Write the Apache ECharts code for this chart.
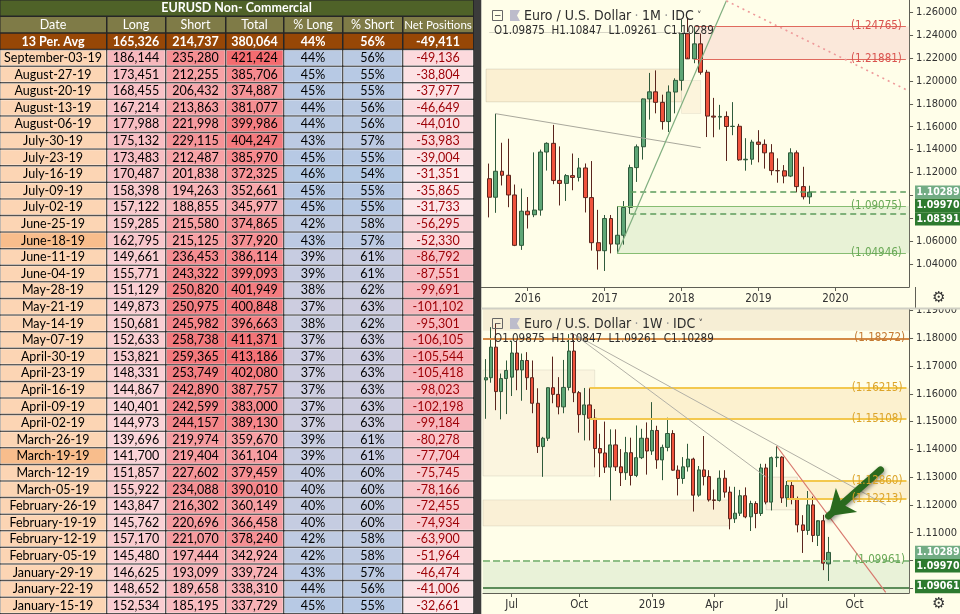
<!DOCTYPE html>
<html>
<head>
<meta charset="utf-8">
<script src="https://cdn.jsdelivr.net/npm/echarts@6/dist/echarts.min.js"></script>
<style>
html,body{margin:0;padding:0;background:#262626;}
#chart{width:960px;height:614px;}
</style>
</head>
<body>
<div id="chart"></div>
<script>
// ===================== TABLE DATA =====================
const tableTitle = 'EURUSD Non- Commercial';
const tableHeaders = ['Date', 'Long', 'Short', 'Total', '% Long', '% Short', 'Net Positions'];
const avgLabel = '13 Per. Avg';
const avgLong = 165326, avgShort = 214737, avgTotal = 380064, avgPctLong = 44, avgPctShort = 56, avgNet = -49411;
const dates = ['September-03-19','August-27-19','August-20-19','August-13-19','August-06-19','July-30-19','July-23-19','July-16-19','July-09-19','July-02-19','June-25-19','June-18-19','June-11-19','June-04-19','May-28-19','May-21-19','May-14-19','May-07-19','April-30-19','April-23-19','April-16-19','April-09-19','April-02-19','March-26-19','March-19-19','March-12-19','March-05-19','February-26-19','February-19-19','February-12-19','February-05-19','January-29-19','January-22-19','January-15-19'];
const longs = [186144,173451,168455,167214,177988,175132,173483,170487,158398,157122,159285,162795,149661,155771,151129,149873,150681,152633,153821,148331,144867,140401,144973,139696,141700,151857,155922,143847,145762,157170,145480,146625,148652,152534];
const shorts = [235280,212255,206432,213863,221998,229115,212487,201838,194263,188855,215580,215125,236453,243322,250820,250975,245982,258738,259365,253749,242890,242599,244157,219974,219404,227602,234088,216302,220696,221070,197444,193099,189658,185195];
const totals = [421424,385706,374887,381077,399986,404247,385970,372325,352661,345977,374865,377920,386114,399093,401949,400848,396663,411371,413186,402080,387757,383000,389130,359670,361104,379459,390010,360149,366458,378240,342924,339724,338310,337729];
const pctLong = [44,45,45,44,44,43,45,46,45,45,42,43,39,39,38,37,38,37,37,37,37,37,37,39,39,40,40,40,40,42,42,43,44,45];
const pctShort = [56,55,55,56,56,57,55,54,55,55,58,57,61,61,62,63,62,63,63,63,63,63,63,61,61,60,60,60,60,58,58,57,56,55];
const netPos = [-49136,-38804,-37977,-46649,-44010,-53983,-39004,-31351,-35865,-31733,-56295,-52330,-86792,-87551,-99691,-101102,-95301,-106105,-105544,-105418,-98023,-102198,-99184,-80278,-77704,-75745,-78166,-72455,-74934,-63900,-51964,-46474,-41006,-32661];
const highlightedDates = ['June-18-19', 'March-19-19'];

// ===================== MONTHLY EUR/USD (Jul 2015 .. Sep 2019) [open, high, low, close] =====================
const monthlyOHLC = [
[1.1146,1.1278,1.0808,1.0984],[1.0984,1.1714,1.0848,1.1211],[1.1211,1.1460,1.1087,1.1176],[1.1176,1.1495,1.0897,1.1004],[1.1004,1.1095,1.0557,1.0564],[1.0564,1.1060,1.0524,1.0862],
[1.0862,1.0986,1.0711,1.0831],[1.0831,1.1376,1.0810,1.0872],[1.0872,1.1400,1.0823,1.1379],[1.1379,1.1464,1.1217,1.1455],[1.1455,1.1616,1.1098,1.1131],[1.1131,1.1428,1.0912,1.1105],
[1.1105,1.1186,1.0952,1.1173],[1.1173,1.1366,1.1045,1.1157],[1.1157,1.1327,1.1122,1.1240],[1.1240,1.1279,1.0851,1.0981],[1.0981,1.1300,1.0518,1.0587],[1.0587,1.0874,1.0352,1.0517],
[1.0517,1.0829,1.0340,1.0798],[1.0798,1.0829,1.0494,1.0575],[1.0575,1.0906,1.0493,1.0652],[1.0652,1.0951,1.0570,1.0895],[1.0895,1.1268,1.0839,1.1243],[1.1243,1.1445,1.1118,1.1425],
[1.1425,1.1847,1.1313,1.1843],[1.1843,1.2070,1.1662,1.1905],[1.1905,1.2092,1.1717,1.1813],[1.1813,1.1880,1.1575,1.1645],[1.1645,1.1961,1.1554,1.1903],[1.1903,1.2023,1.1717,1.2005],
[1.2005,1.2537,1.1916,1.2413],[1.2413,1.2556,1.2206,1.2193],[1.2193,1.2476,1.2155,1.2324],[1.2324,1.2414,1.2055,1.2076],[1.2076,1.2097,1.1510,1.1693],[1.1693,1.1852,1.1508,1.1684],
[1.1684,1.1791,1.1575,1.1690],[1.1690,1.1734,1.1301,1.1602],[1.1602,1.1815,1.1526,1.1604],[1.1604,1.1625,1.1302,1.1311],[1.1311,1.1500,1.1216,1.1316],[1.1316,1.1486,1.1268,1.1466],
[1.1466,1.1570,1.1289,1.1446],[1.1446,1.1489,1.1234,1.1372],[1.1372,1.1448,1.1176,1.1217],[1.1217,1.1324,1.1111,1.1215],[1.1215,1.1265,1.1106,1.1169],[1.1169,1.1412,1.1160,1.1372],
[1.1372,1.1393,1.1027,1.1077],[1.1077,1.1250,1.0965,1.0988],[1.09875,1.10847,1.09261,1.10289]
];
const monthlyTickCats = ['2016-01','2017-01','2018-01','2019-01','2020-01'];
const monthlyTickLabels = ['2016','2017','2018','2019','2020'];

// ===================== WEEKLY EUR/USD (from week of 2018-05-28) [open, high, low, close] =====================
const weeklyOHLC = [
[1.1650,1.1725,1.1510,1.1658],[1.1658,1.1840,1.1640,1.1768],[1.1768,1.1852,1.1541,1.1608],[1.1608,1.1673,1.1508,1.1655],[1.1655,1.1720,1.1527,1.1684],
[1.1660,1.1791,1.1592,1.1747],[1.1747,1.1791,1.1613,1.1686],[1.1686,1.1745,1.1575,1.1720],[1.1720,1.1750,1.1614,1.1658],[1.1658,1.1720,1.1530,1.1566],
[1.1566,1.1620,1.1387,1.1410],[1.1410,1.1445,1.1301,1.1440],[1.1440,1.1623,1.1430,1.1622],[1.1622,1.1734,1.1566,1.1598],[1.1598,1.1660,1.1526,1.1553],
[1.1553,1.1722,1.1530,1.1623],[1.1623,1.1815,1.1612,1.1754],[1.1754,1.1815,1.1570,1.1604],[1.1604,1.1610,1.1460,1.1525],[1.1525,1.1621,1.1432,1.1560],
[1.1560,1.1621,1.1432,1.1512],[1.1512,1.1545,1.1335,1.1403],[1.1403,1.1456,1.1300,1.1387],[1.1387,1.1500,1.1315,1.1336],[1.1336,1.1472,1.1216,1.1416],
[1.1416,1.1472,1.1322,1.1337],[1.1337,1.1401,1.1268,1.1316],[1.1316,1.1445,1.1290,1.1388],[1.1388,1.1442,1.1270,1.1306],[1.1306,1.1486,1.1300,1.1370],
[1.1370,1.1474,1.1365,1.1440],[1.1440,1.1497,1.1309,1.1394],[1.1394,1.1570,1.1380,1.1468],[1.1468,1.1485,1.1330,1.1362],[1.1362,1.1417,1.1289,1.1407],
[1.1407,1.1514,1.1393,1.1457],[1.1457,1.1469,1.1323,1.1325],[1.1325,1.1342,1.1234,1.1295],[1.1295,1.1372,1.1276,1.1337],[1.1337,1.1420,1.1320,1.1365],
[1.1365,1.1370,1.1176,1.1235],[1.1235,1.1340,1.1229,1.1326],[1.1326,1.1448,1.1270,1.1302],[1.1302,1.1325,1.1212,1.1218],[1.1218,1.1255,1.1183,1.1216],
[1.1216,1.1324,1.1212,1.1296],[1.1296,1.1325,1.1226,1.1246],[1.1246,1.1266,1.1112,1.1150],[1.1150,1.1265,1.1135,1.1170],[1.1170,1.1254,1.1160,1.1233],
[1.1233,1.1263,1.1152,1.1157],[1.1157,1.1215,1.1106,1.1205],[1.1205,1.1213,1.1116,1.1169],[1.1169,1.1348,1.1160,1.1333],[1.1333,1.1348,1.1202,1.1210],
[1.1210,1.1374,1.1180,1.1370],[1.1370,1.1412,1.1336,1.1372],[1.1372,1.1375,1.1207,1.1225],[1.1225,1.1286,1.1193,1.1270],[1.1270,1.1286,1.1202,1.1220],
[1.1220,1.1230,1.1101,1.1128],[1.1128,1.1163,1.1027,1.1108],[1.1108,1.1250,1.1092,1.1200],[1.1200,1.1230,1.1066,1.1090],[1.1090,1.1140,1.1052,1.1143],
[1.1143,1.1164,1.0965,1.0990],[1.09875,1.10847,1.09261,1.10289]
];
const weeklyTickCats = ['2018-07-02','2018-10-01','2019-01-07','2019-04-01','2019-07-01','2019-10-07'];
const weeklyTickLabels = ['Jul','Oct','2019','Apr','Jul','Oct'];

// ===================== CHART ANNOTATION LEVELS =====================
const lastOHLC = [1.09875, 1.10847, 1.09261, 1.10289];
const topSupplyZone = [1.24765, 1.21881];
const topDemandZone = [1.09075, 1.04946];
const topDashedLevels = [1.10289, 1.08391];
const topOldZoneA = [1.2104, 1.1817];
const topOldZoneB = [1.2004, 1.1716];
const topGrayLevel = 1.2425;
const topTrendGray = [[1, 1.1714], [33, 1.1417]];
const topTrendGreen = [[20, 1.0494], [37, 1.2700]];
const topTrendRed = [[37, 1.2700], [65, 1.1925]];
const topTagValues = [1.10289, 1.09970, 1.08391];

const botOrangeLevel = 1.18272;
const botZone1 = [1.16215, 1.15108];
const botZone2 = [1.12860, 1.12213];
const botSupport = 1.09961;
const botFloor = 1.09061;
const botOldZone1 = [1.1686, 1.1304];
const botOldZone2 = [1.1218, 1.1124];
const botOldZone3 = [1.1300, 1.1182];
const botTrendGrayA = [[17, 1.1815], [77, 1.1200]];
const botTrendGrayB = [[17, 1.1815], [54, 1.1300]];
const botTrendRed = [[56, 1.1412], [77, 1.0885]];
const botArrow = [[76, 1.1326], [66, 1.1160]];
const botTagValues = [1.10289, 1.09970, 1.09061];

// ===================== BUILD =====================
const monthlyCats = [];
for (let i = 0; i < 66; i++) {
  const y = 2015 + Math.floor((6 + i) / 12), m = (6 + i) % 12 + 1;
  monthlyCats.push(y + '-' + String(m).padStart(2, '0'));
}
const weeklyCats = [];
const wStart = Date.UTC(2018, 4, 28);
for (let i = 0; i < 82; i++) weeklyCats.push(new Date(wStart + i * 7 * 86400000).toISOString().slice(0, 10));
const lastM = monthlyCats.length - 1, lastW = weeklyCats.length - 1;

const CH_FONT = "'Liberation Sans Narrow','DejaVu Sans Condensed',Roboto,sans-serif";
const TBL_FONT = "Lato,'Open Sans',sans-serif";
const fmt = v => v.toLocaleString('en-US');
function lerpColor(a, b, t) {
  t = Math.max(0, Math.min(1, t));
  return 'rgb(' + [0, 1, 2].map(k => Math.round(a[k] + (b[k] - a[k]) * t)).join(',') + ')';
}
function scaleColor(arr, v, lo, hi) {
  const mn = Math.min(...arr), mx = Math.max(...arr);
  return lerpColor(lo, hi, (v - mn) / (mx - mn));
}

const tableCells = [];
tableCells.push({row: 0, col: 0, span: true, text: tableTitle, bg: '#4f6228', color: '#fff', bold: true});
tableHeaders.forEach((h, c) => tableCells.push({row: 1, col: c, text: h, bg: '#7f7b47', color: '#fff'}));
[avgLabel, fmt(avgLong), fmt(avgShort), fmt(avgTotal), avgPctLong + '%', avgPctShort + '%', fmt(avgNet)]
  .forEach((t, c) => tableCells.push({row: 2, col: c, text: t, bg: '#974706', color: '#fff', bold: true}));
const absNet = netPos.map(Math.abs);
dates.forEach((d, i) => {
  const r = i + 3;
  const pctBg = scaleColor(pctLong, pctLong[i], [205, 205, 224], [180, 201, 228]);
  tableCells.push({row: r, col: 0, text: d, bg: highlightedDates.includes(d) ? '#f8bd8c' : '#fcd5b4', color: '#000'});
  tableCells.push({row: r, col: 1, text: fmt(longs[i]), bg: scaleColor(longs, longs[i], [251, 214, 218], [247, 184, 189]), color: '#000'});
  tableCells.push({row: r, col: 2, text: fmt(shorts[i]), bg: scaleColor(shorts, shorts[i], [249, 188, 192], [243, 120, 124]), color: '#000'});
  tableCells.push({row: r, col: 3, text: fmt(totals[i]), bg: scaleColor(totals, totals[i], [248, 178, 182], [244, 108, 112]), color: '#000'});
  tableCells.push({row: r, col: 4, text: pctLong[i] + '%', bg: pctBg, color: '#000'});
  tableCells.push({row: r, col: 5, text: pctShort[i] + '%', bg: pctBg, color: '#000'});
  tableCells.push({row: r, col: 6, text: fmt(netPos[i]), bg: scaleColor(absNet, absNet[i], [253, 231, 233], [248, 178, 184]), color: '#9c0006'});
});
const tableRows = [];
for (let r = 0; r < dates.length + 3; r++) tableRows.push('r' + r);
const colEdges = [0, 107, 166, 226, 284, 343, 403, 474];

function renderTableCell(params, api) {
  const cell = tableCells[params.dataIndex];
  const c0 = api.coord([0, cell.row]);
  const band = api.size([1, 1]);
  const tLeft = c0[0] - band[0] / 2, tW = band[0] * 7;
  const top = c0[1] - band[1] / 2, h = band[1];
  const sx = tW / colEdges[7];
  const x0 = tLeft + (cell.span ? 0 : colEdges[cell.col]) * sx;
  const x1 = tLeft + (cell.span ? colEdges[7] : colEdges[cell.col + 1]) * sx;
  return {
    type: 'group',
    children: [
      {type: 'rect', shape: {x: x0 + 0.5, y: top + 0.5, width: x1 - x0 - 1.5, height: h - 1.5},
       style: {fill: cell.bg, stroke: cell.row > 2 ? 'rgba(255,255,255,0.45)' : null, lineWidth: 1}},
      {type: 'text', style: {text: cell.text, x: (x0 + x1) / 2 - 0.5, y: top + h / 2, align: 'center', verticalAlign: 'middle',
        fill: cell.color, font: (cell.bold ? 'bold ' : '') + (cell.row === 1 && cell.col === 6 ? '11.5px ' : '12.5px ') + TBL_FONT}}
    ]
  };
}

// ---------- style helpers ----------
const hline = (v, opts) => Object.assign({yAxis: v, label: {show: false}}, opts || {});
const levelLabel = (v, color) => ({show: true, position: 'insideEnd', formatter: '(' + v.toFixed(5) + ')', color: color,
  fontSize: 11.5, fontFamily: CH_FONT, distance: 4, opacity: 1, textBorderWidth: 0});
const segment = (p, style, label) => [
  {coord: p[0], symbol: 'none', lineStyle: style, label: label || {show: false}},
  {coord: p[1], symbol: 'none'}
];
const rightSegment = (x, xEnd, v, style, label) => [
  {coord: [x, v], lineStyle: style, label: label || {show: false}},
  {coord: [xEnd, v]}
];

const candleStyle = {color: '#5ea676', color0: '#f0533d', borderColor: '#2f5a3b', borderColor0: '#5a251d', borderWidth: 1};

const option = {
  animation: false,
  backgroundColor: '#262626',
  grid: [
    {left: 0, top: 0, width: 474, height: 614},
    {left: 486, top: 0, width: 429, height: 287},
    {left: 483, top: 309, width: 432, height: 284}
  ],
  xAxis: [
    {gridIndex: 0, type: 'category', data: tableHeaders, show: false},
    {gridIndex: 1, type: 'category', data: monthlyCats, boundaryGap: true,
     axisLine: {lineStyle: {color: '#5f5f55'}},
     axisTick: {show: true, alignWithLabel: true, length: 4, interval: (i, v) => monthlyTickCats.includes(v), lineStyle: {color: '#5f5f55'}},
     axisLabel: {interval: (i, v) => monthlyTickCats.includes(v), formatter: v => monthlyTickLabels[monthlyTickCats.indexOf(v)] || '',
       color: '#333', fontSize: 11.5, fontFamily: CH_FONT, margin: 6},
     splitLine: {show: false}},
    {gridIndex: 2, type: 'category', data: weeklyCats, boundaryGap: true,
     axisLine: {lineStyle: {color: '#5f5f55'}},
     axisTick: {show: true, alignWithLabel: true, length: 4, interval: (i, v) => weeklyTickCats.includes(v), lineStyle: {color: '#5f5f55'}},
     axisLabel: {interval: (i, v) => weeklyTickCats.includes(v), formatter: v => weeklyTickLabels[weeklyTickCats.indexOf(v)] || '',
       color: '#333', fontSize: 11.5, fontFamily: CH_FONT, margin: 6},
     splitLine: {show: false}}
  ],
  yAxis: [
    {gridIndex: 0, type: 'category', data: tableRows, inverse: true, show: false},
    {gridIndex: 1, type: 'value', position: 'right', min: 1.02, max: 1.2707, splitNumber: 12,
     axisLine: {show: true, lineStyle: {color: '#5f5f55'}}, axisTick: {show: true, length: 4, lineStyle: {color: '#5f5f55'}},
     axisLabel: {color: '#333', fontSize: 11, fontFamily: CH_FONT, margin: 7, showMinLabel: false, showMaxLabel: false, formatter: v => v.toFixed(5)},
     splitLine: {show: false}},
    {gridIndex: 2, type: 'value', position: 'right', min: 1.08827, max: 1.19054, splitNumber: 10,
     axisLine: {show: true, lineStyle: {color: '#5f5f55'}}, axisTick: {show: true, length: 4, lineStyle: {color: '#5f5f55'}},
     axisLabel: {color: '#333', fontSize: 11, fontFamily: CH_FONT, margin: 7, showMinLabel: false, showMaxLabel: false, formatter: v => v.toFixed(5)},
     splitLine: {show: false}}
  ],
  series: [
    {type: 'custom', name: 'table', xAxisIndex: 0, yAxisIndex: 0, renderItem: renderTableCell,
     encode: {x: 0, y: 1}, data: tableCells.map(c => [c.col, c.row]), silent: true},
    {type: 'candlestick', name: 'EURUSD 1M', xAxisIndex: 1, yAxisIndex: 1, barWidth: 4.4,
     data: monthlyOHLC.map(d => [d[0], d[3], d[2], d[1]]), itemStyle: candleStyle,
     markArea: {silent: true, data: [
       [{yAxis: topOldZoneA[0], itemStyle: {color: '#fbf0d2', borderColor: 'rgba(0,0,0,0.10)', borderWidth: 1}}, {xAxis: 30, yAxis: topOldZoneA[1]}],
       [{xAxis: 30, yAxis: topOldZoneB[0], itemStyle: {color: '#fcf4dc', borderColor: 'rgba(0,0,0,0.06)', borderWidth: 1}}, {xAxis: 33, yAxis: topOldZoneB[1]}],
       [{xAxis: 32, yAxis: topSupplyZone[0], itemStyle: {color: '#fbe8da'}}, {yAxis: topSupplyZone[1]}],
       [{xAxis: 20, yAxis: topDemandZone[0], itemStyle: {color: '#e8f2d6'}}, {yAxis: topDemandZone[1]}]
     ]},
     markLine: {silent: true, symbol: ['none', 'none'], label: {show: false}, data: [
       rightSegment(0, 31, topGrayLevel, {color: '#d8d6c6', width: 1, type: 'solid'}),
       rightSegment(32, lastM, topSupplyZone[0], {color: '#e06a5e', width: 1.2, type: 'solid'}, levelLabel(topSupplyZone[0], '#d9534f')),
       rightSegment(32, lastM, topSupplyZone[1], {color: '#e06a5e', width: 1.2, type: 'solid'}, levelLabel(topSupplyZone[1], '#d9534f')),
       rightSegment(20, lastM, topDemandZone[0], {color: '#86bd72', width: 1.2, type: 'solid'}, levelLabel(topDemandZone[0], '#6aa957')),
       rightSegment(20, lastM, topDemandZone[1], {color: '#86bd72', width: 1.2, type: 'solid'}, levelLabel(topDemandZone[1], '#6aa957')),
       rightSegment(22, lastM, topDashedLevels[0], {color: '#5c9c5c', width: 1.5, type: [6, 4]}),
       rightSegment(22, lastM, topDashedLevels[1], {color: '#5c9c5c', width: 1.5, type: [6, 4]}),
       segment(topTrendGray, {color: '#a9a89c', width: 1, type: 'solid'}),
       segment(topTrendGreen, {color: '#7fae7f', width: 1.2, type: 'solid'}),
       segment(topTrendRed, {color: '#ee9a9a', width: 1.6, type: [2, 4]})
     ]}},
    {type: 'candlestick', name: 'EURUSD 1W', xAxisIndex: 2, yAxisIndex: 2, barWidth: 3.6,
     data: weeklyOHLC.map(d => [d[0], d[3], d[2], d[1]]), itemStyle: candleStyle,
     markArea: {silent: true, data: [
       [{yAxis: 1.19054, itemStyle: {color: '#f6eed5'}}, {yAxis: botOrangeLevel}],
       [{yAxis: botOldZone1[0], itemStyle: {color: '#fbf5df', borderColor: 'rgba(0,0,0,0.08)', borderWidth: 1}}, {xAxis: 21, yAxis: botOldZone1[1]}],
       [{yAxis: botOldZone2[0], itemStyle: {color: '#faf0d6', borderColor: 'rgba(0,0,0,0.08)', borderWidth: 1}}, {xAxis: 47, yAxis: botOldZone2[1]}],
       [{xAxis: 54, yAxis: botOldZone3[0], itemStyle: {color: '#fbf4de', borderColor: 'rgba(0,0,0,0.10)', borderWidth: 1}}, {xAxis: 60, yAxis: botOldZone3[1]}],
       [{xAxis: 20, yAxis: botZone1[0], itemStyle: {color: '#fcf1cf'}}, {yAxis: botZone1[1]}],
       [{xAxis: 58, yAxis: botZone2[0], itemStyle: {color: '#fcf1cf'}}, {yAxis: botZone2[1]}],
       [{yAxis: botSupport, itemStyle: {color: '#e9f2d8'}}, {yAxis: 1.08827}]
     ]},
     markLine: {silent: true, symbol: ['none', 'none'], label: {show: false}, data: [
       hline(botOrangeLevel, {lineStyle: {color: '#d48a45', width: 2.2, type: 'solid'}, label: levelLabel(botOrangeLevel, '#c47a33')}),
       rightSegment(20, lastW, botZone1[0], {color: '#f3c84e', width: 2, type: 'solid'}, levelLabel(botZone1[0], '#dca42a')),
       rightSegment(20, lastW, botZone1[1], {color: '#f3c84e', width: 2, type: 'solid'}, levelLabel(botZone1[1], '#dca42a')),
       rightSegment(58, lastW, botZone2[0], {color: '#f3c84e', width: 2, type: 'solid'}, levelLabel(botZone2[0], '#dca42a')),
       rightSegment(58, lastW, botZone2[1], {color: '#f3c84e', width: 2, type: 'solid'}, levelLabel(botZone2[1], '#dca42a')),
       hline(botSupport, {lineStyle: {color: '#8fbf86', width: 2, type: [7, 3]}, label: levelLabel(botSupport, '#6aa957')}),
       hline(botFloor, {lineStyle: {color: '#2e6b30', width: 1.5, type: 'solid'}}),
       segment(botTrendGrayA, {color: '#b2b0a6', width: 1, type: 'solid'}),
       segment(botTrendGrayB, {color: '#b2b0a6', width: 1, type: 'solid'}),
       segment(botTrendRed, {color: '#d8786d', width: 1.2, type: 'solid'}),
       [{coord: botArrow[0], symbol: 'none', lineStyle: {color: '#2a6a1e', width: 7, type: 'solid', cap: 'round', shadowBlur: 4, shadowColor: 'rgba(0,0,0,0.45)', shadowOffsetX: 1, shadowOffsetY: 2}},
        {coord: botArrow[1], symbol: 'arrow', symbolSize: 24}]
     ]}}
  ],
  graphic: []
};

const chart = echarts.init(document.getElementById('chart'));
chart.setOption(option);

// ---------- overlay graphics (panel frame, titles, price tags) ----------
function titleGroup(id, dy, tf) {
  return [
    {type: 'rect', id: id + 'box', z: 50, shape: {x: 492.5, y: 10.5 + dy, width: 10, height: 10}, style: {fill: 'none', stroke: '#666', lineWidth: 1}},
    {type: 'line', id: id + 'minus', z: 50, shape: {x1: 495, y1: 15.5 + dy, x2: 500.5, y2: 15.5 + dy}, style: {stroke: '#666', lineWidth: 1}},
    {type: 'polygon', id: id + 'flag', z: 50, shape: {points: [[510, 10 + dy], [520, 10 + dy], [517, 15.5 + dy], [520, 21 + dy], [510, 21 + dy]]}, style: {fill: '#bdbccb'}},
    {type: 'text', id: id + 't', z: 50, x: 524, y: 16 + dy, style: {
      text: '{a|Euro / U.S. Dollar} {b|·} {a|' + tf + '} {b|·} {a|IDC} {c|˅}', verticalAlign: 'middle',
      rich: {a: {fill: '#2d2d2d', fontSize: 14, fontFamily: CH_FONT}, b: {fill: '#999', fontSize: 14, fontFamily: CH_FONT},
             c: {fill: '#444', fontSize: 10, fontFamily: CH_FONT}}}},
    {type: 'text', id: id + 'o', z: 50, x: 494, y: 31 + dy, style: {
      text: 'O' + lastOHLC[0].toFixed(5) + '  H' + lastOHLC[1].toFixed(5) + '  L' + lastOHLC[2].toFixed(5) + '  C' + lastOHLC[3].toFixed(5),
      verticalAlign: 'middle', fill: '#2d2d2d', fontSize: 11.5, fontFamily: CH_FONT}}
  ];
}
function tagGroup(id, yAxisIndex, values) {
  const colors = ['#72ac84', '#2d7a2f', '#2d7a2f'];
  const out = [];
  let prev = -Infinity;
  values.forEach((v, i) => {
    let y = chart.convertToPixel({yAxisIndex: yAxisIndex}, v);
    y = Math.max(y, prev + 13.4);
    prev = y;
    out.push({type: 'rect', id: id + 'r' + i, z: 60, shape: {x: 915, y: y - 6.7, width: 45, height: 13.4}, style: {fill: colors[i]}});
    out.push({type: 'text', id: id + 't' + i, z: 61, x: 938, y: y, style: {text: v.toFixed(5), fill: '#fff', align: 'center', verticalAlign: 'middle',
      fontSize: 10.5, fontWeight: 'bold', fontFamily: CH_FONT}});
  });
  return out;
}
const graphics = [
  {type: 'rect', id: 'bg', z: -100, shape: {x: 481, y: 0, width: 479, height: 614}, style: {fill: '#fffee9'}},
  {type: 'rect', id: 'tblStrip', z: -90, shape: {x: 474, y: 0, width: 7, height: 614}, style: {fill: '#3b3b3b'}},
  {type: 'line', id: 'leftBorder', z: 40, shape: {x1: 481.5, y1: 0, x2: 481.5, y2: 614}, style: {stroke: '#c9c9bd', lineWidth: 1}},
  {type: 'rect', id: 'coverTop', z: 40, shape: {x: 916, y: 288, width: 44, height: 20}, style: {fill: '#fffee9'}},
  {type: 'line', id: 'axisExt', z: 41, shape: {x1: 915.5, y1: 287, x2: 915.5, y2: 309}, style: {stroke: '#5f5f55', lineWidth: 1}},
  {type: 'line', id: 'xAxisExt', z: 41, shape: {x1: 481, y1: 287.5, x2: 486, y2: 287.5}, style: {stroke: '#5f5f55', lineWidth: 1}},
  {type: 'rect', id: 'sep', z: 41, shape: {x: 481, y: 307.5, width: 479, height: 2}, style: {fill: '#cfcfc4'}},
  {type: 'text', id: 'gear1', z: 42, x: 938, y: 298, style: {text: '⚙', fill: '#333', fontSize: 15, align: 'center', verticalAlign: 'middle'}},
  {type: 'text', id: 'gear2', z: 42, x: 938, y: 604, style: {text: '⚙', fill: '#333', fontSize: 15, align: 'center', verticalAlign: 'middle'}}
].concat(titleGroup('tt', 0, '1M'), titleGroup('bt', 308, '1W'),
         tagGroup('tg1', 1, topTagValues), tagGroup('tg2', 2, botTagValues));
chart.setOption({graphic: graphics});
</script>
</body>
</html>
